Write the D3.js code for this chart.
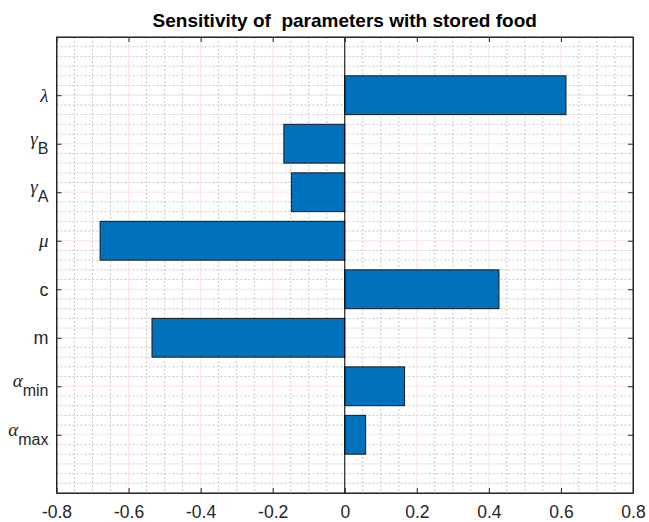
<!DOCTYPE html>
<html>
<head>
<meta charset="utf-8">
<script src="https://cdn.jsdelivr.net/npm/d3@7"></script>
<style>
  html, body { margin: 0; padding: 0; background: #fff; }
  svg { display: block; }
</style>
</head>
<body>
<script>
// Parameter names (symbol + subscript), top to bottom
const labelBase = ["λ", "γ", "γ", "μ", "c", "m", "α", "α"];
const labelSub  = ["", "B", "A", "", "", "", "min", "max"];
const greek     = [true, true, true, true, false, false, true, true];
// Sensitivity index for each parameter
const sensitivity = [0.614, -0.169, -0.148, -0.679, 0.428, -0.535, 0.166, 0.058];
// X tick values
const xTicks = [-0.8, -0.6, -0.4, -0.2, 0, 0.2, 0.4, 0.6, 0.8];

const W = 649, H = 522;
const margin = { left: 56.5, right: 16, top: 37, bottom: 29 };
const pw = W - margin.left - margin.right;
const ph = H - margin.top - margin.bottom;

const svg = d3.select("body").append("svg").attr("width", W).attr("height", H)
  .style("font-family", "'Liberation Sans', Arial, sans-serif");

const g = svg.append("g").attr("transform", `translate(${margin.left},${margin.top})`);

const n = sensitivity.length;
const x = d3.scaleLinear().domain([-0.8, 0.8]).range([0, pw]);
// category k (top first) sits at position n - k
const y = d3.scaleLinear().domain([-0.2, n + 1.2]).range([ph, 0]);
const pos = i => n - i;

// minor grid
const xMinor = d3.range(-0.8, 0.8001, 0.05).filter(v => Math.abs(Math.round(v * 5) - v * 5) > 1e-6);
const yMinor = d3.range(-0.2, n + 1.2001, 0.2).filter(v => Math.abs(Math.round(v) - v) > 1e-6 || v < 1 || v > n);
const grid = g.append("g");
grid.selectAll("line.xm").data(xMinor).join("line")
  .attr("x1", d => x(d)).attr("x2", d => x(d)).attr("y1", 0).attr("y2", ph)
  .attr("stroke", "#c8c8c8").attr("stroke-width", 1).attr("stroke-dasharray", "2,2");
grid.selectAll("line.ym").data(yMinor).join("line")
  .attr("y1", d => y(d)).attr("y2", d => y(d)).attr("x1", 0).attr("x2", pw)
  .attr("stroke", "#c8c8c8").attr("stroke-width", 1).attr("stroke-dasharray", "2,2");
// major grid
grid.selectAll("line.xM").data(xTicks).join("line")
  .attr("x1", d => x(d)).attr("x2", d => x(d)).attr("y1", 0).attr("y2", ph)
  .attr("stroke", "#fbe3e3").attr("stroke-width", 1);
grid.selectAll("line.yM").data(d3.range(n)).join("line")
  .attr("y1", i => y(pos(i))).attr("y2", i => y(pos(i))).attr("x1", 0).attr("x2", pw)
  .attr("stroke", "#fbe3e3").attr("stroke-width", 1);

// bars
const bh = y(0) - y(0.8);
g.append("g").selectAll("rect").data(sensitivity).join("rect")
  .attr("x", d => x(Math.min(0, d)))
  .attr("width", d => Math.abs(x(d) - x(0)))
  .attr("y", (d, i) => y(pos(i)) - bh / 2)
  .attr("height", bh)
  .attr("fill", "#0072BD")
  .attr("stroke", "#1a1a1a").attr("stroke-width", 1);

// zero line
g.append("line").attr("x1", x(0)).attr("x2", x(0)).attr("y1", 0).attr("y2", ph)
  .attr("stroke", "#000").attr("stroke-width", 1);

// axes
const fmt = d => d === 0 ? "0" : String(+d.toFixed(1));
const axColor = "#262626";
const xb = g.append("g").attr("transform", `translate(0,${ph})`)
  .call(d3.axisBottom(x).tickValues(xTicks).tickFormat(fmt).tickSizeInner(-5).tickSizeOuter(0).tickPadding(13));
const xt = g.append("g")
  .call(d3.axisTop(x).tickValues(xTicks).tickFormat("").tickSizeInner(-5).tickSizeOuter(0));
const yTickPos = d3.range(n).map(pos);
const yl = g.append("g")
  .call(d3.axisLeft(y).tickValues(yTickPos).tickFormat("").tickSizeInner(-5).tickSizeOuter(0));
const yr = g.append("g").attr("transform", `translate(${pw},0)`)
  .call(d3.axisRight(y).tickValues(yTickPos).tickFormat("").tickSizeInner(-5).tickSizeOuter(0));
[xb, xt, yl, yr].forEach(a => {
  a.select(".domain").attr("stroke", axColor).attr("stroke-width", 1);
  a.selectAll(".tick line").attr("stroke", axColor);
});
xb.selectAll(".tick text").attr("font-size", 17.5).attr("fill", axColor)
  .attr("font-family", "'Liberation Sans', Arial, sans-serif");
// box around plot
g.append("rect").attr("x", 0).attr("y", 0).attr("width", pw).attr("height", ph)
  .attr("fill", "none").attr("stroke", axColor).attr("stroke-width", 1);

// y tick labels (symbol with subscript)
const yLab = g.append("g").selectAll("text").data(d3.range(n)).join("text")
  .attr("x", -8).attr("y", i => y(pos(i)))
  .attr("text-anchor", "end")
  .attr("fill", axColor);
yLab.each(function (i) {
  const t = d3.select(this);
  const hasSub = labelSub[i] !== "";
  const base = t.append("tspan").text(labelBase[i])
    .attr("dy", hasSub ? "0.05em" : "0.35em");
  if (greek[i]) {
    base.attr("font-family", "'Liberation Serif', 'Times New Roman', serif")
      .attr("font-style", "italic").attr("font-size", 19);
  } else {
    base.attr("font-size", 18);
  }
  if (hasSub) {
    t.append("tspan").text(labelSub[i]).attr("dy", 9).attr("font-size", 16);
  }
});

// title
svg.append("text").attr("x", margin.left + pw / 2).attr("y", 27)
  .attr("text-anchor", "middle").attr("font-weight", "bold").attr("font-size", 19)
  .attr("fill", "#000").attr("xml:space", "preserve").style("white-space", "pre")
  .text("Sensitivity of  parameters with stored food");
</script>
</body>
</html>
